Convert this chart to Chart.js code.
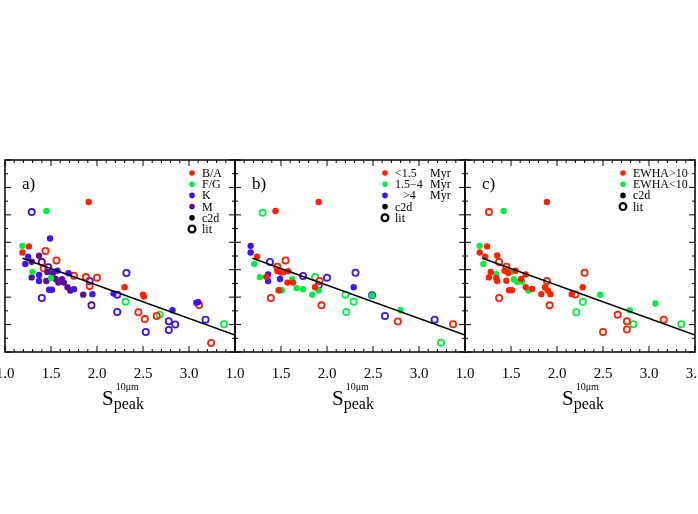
<!DOCTYPE html>
<html>
<head>
<meta charset="utf-8">
<script src="https://cdn.jsdelivr.net/npm/chart.js@4.4.1/dist/chart.umd.min.js"></script>
<style>
  html, body { margin: 0; padding: 0; background: #fff; width: 698px; height: 514px; overflow: hidden; }
  canvas { position: absolute; top: 0; }
</style>
</head>
<body>
<canvas id="panelA" width="300" height="514" style="left:-25px"></canvas>
<canvas id="panelB" width="300" height="514" style="left:205px"></canvas>
<canvas id="panelC" width="300" height="514" style="left:435px"></canvas>
<script>
// fit line
const fitX = [1.19, 3.5];
const fitY = [3.42, 0.62];

// a) spectral type
const aBAc2dX = [1.91, 1.19, 1.26, 2.30, 2.50, 2.51];
const aBAc2dY = [5.47, 3.63, 3.85, 2.36, 2.09, 2.02];
const aBAlitX = [1.44, 1.56, 1.42, 1.75, 1.88, 2.00, 1.92, 2.45, 2.52, 2.65, 3.11, 3.24];
const aBAlitY = [3.68, 3.34, 3.05, 2.78, 2.73, 2.71, 2.41, 1.45, 1.20, 1.31, 1.71, 0.33];
const aFGc2dX = [1.19, 1.45, 1.30, 1.50];
const aFGc2dY = [3.87, 5.14, 2.92, 2.70];
const aFGlitX = [2.31, 2.68, 3.38];
const aFGlitY = [1.83, 1.36, 1.01];
const aKc2dX = [1.49, 1.25, 1.22, 1.37, 1.37, 1.48, 1.51, 1.57, 1.69, 1.75, 1.95, 2.18, 2.82, 3.08];
const aKc2dY = [4.14, 3.47, 3.21, 2.81, 2.59, 2.27, 2.27, 2.96, 2.87, 2.29, 2.11, 2.13, 1.52, 1.80];
const aKlitX = [1.29, 1.40, 1.92, 2.22, 2.32, 2.22, 2.53, 2.78, 2.78, 2.85, 3.18];
const aKlitY = [5.10, 1.97, 2.59, 2.09, 2.88, 1.46, 0.73, 1.12, 0.80, 1.00, 1.18];
const aMc2dX = [1.37, 1.29, 1.29, 1.46, 1.52, 1.55, 1.58, 1.62, 1.64, 1.68, 1.71, 1.85, 1.45, 3.10];
const aMc2dY = [3.51, 3.29, 2.72, 2.92, 2.87, 2.66, 2.53, 2.65, 2.53, 2.36, 2.24, 2.09, 2.59, 1.82];
const aMlitX = [1.40, 1.47, 1.94];
const aMlitY = [3.28, 3.09, 1.70];

// b) age
const bYoungc2dX = [1.91, 1.44, 1.24, 1.34, 1.46, 1.50, 1.53, 1.58, 1.57, 1.63, 1.87, 1.48];
const bYoungc2dY = [5.47, 5.14, 3.47, 2.74, 2.95, 2.90, 2.92, 2.95, 2.53, 2.53, 2.36, 2.25];
const bYounglitX = [1.55, 1.46, 1.39, 1.92, 1.94, 2.77, 3.37];
const bYounglitY = [3.34, 3.11, 1.97, 2.59, 1.70, 1.11, 1.01];
const bMidc2dX = [1.21, 1.27, 1.47, 1.51, 1.62, 1.67, 1.74, 1.84, 1.91, 2.80, 2.49];
const bMidc2dY = [3.21, 2.73, 2.25, 2.25, 2.65, 2.33, 2.29, 2.09, 2.24, 1.52, 2.06];
const bMidlitX = [1.30, 1.87, 2.20, 2.29, 2.21, 3.24];
const bMidlitY = [5.08, 2.73, 2.09, 1.83, 1.46, 0.34];
const bOldc2dX = [1.17, 1.17, 1.36, 1.36, 1.49, 2.29];
const bOldc2dY = [3.87, 3.63, 2.83, 2.59, 2.66, 2.36];
const bOldlitX = [1.38, 1.74, 2.00, 2.31, 1.91, 2.49, 2.63, 3.17];
const bOldlitY = [3.28, 2.77, 2.71, 2.89, 2.43, 2.07, 1.31, 1.18];

// c) H-alpha equivalent width
const cHic2dX = [1.89, 1.24, 1.16, 1.22, 1.35, 1.28, 1.26, 1.34, 1.35, 1.43, 1.45, 1.47, 1.48, 1.51, 1.55, 1.61, 1.66, 1.66, 1.73, 1.83, 1.87, 1.90, 1.93, 2.16, 2.28];
const cHic2dY = [5.47, 3.85, 3.63, 3.47, 3.52, 2.92, 2.72, 2.70, 2.59, 2.96, 2.60, 2.88, 2.25, 2.25, 2.96, 2.66, 2.83, 2.36, 2.30, 2.11, 2.36, 2.24, 2.11, 2.11, 2.36];
const cHilitX = [1.26, 1.37, 1.45, 1.37, 1.89, 1.92, 2.20, 2.30, 2.66, 2.76, 2.76, 2.50, 3.16];
const cHilitY = [5.10, 3.28, 3.11, 1.97, 2.59, 1.70, 2.10, 2.89, 1.36, 1.12, 0.82, 0.73, 1.18];
const cLoc2dX = [1.42, 1.16, 1.20, 1.34, 1.50, 1.53, 1.57, 1.62, 1.69, 2.47, 2.79, 3.07];
const cLoc2dY = [5.14, 3.87, 3.21, 2.84, 2.92, 2.65, 2.55, 2.57, 2.24, 2.09, 1.52, 1.77];
const cLolitX = [2.21, 2.28, 2.83, 3.35];
const cLolitY = [1.45, 1.83, 1.01, 1.01];

const xTicks = [1.0, 1.5, 2.0, 2.5, 3.0, 3.5];

// legend labels
const aLegend = ['B/A', 'F/G', 'K', 'M', 'c2d', 'lit'];
const bLegend = ['<1.5', '1.5\u22124', '>4', 'c2d', 'lit'];
const bUnits = ['Myr', 'Myr', 'Myr', '', ''];
const cLegend = ['EWHA>10', 'EWHA<10', 'c2d', 'lit'];

const RED = '#ff2000', GREEN = '#00f040', BLUE = '#3a12ff', PURPLE = '#5c0a9e';
const SERIF = '"Liberation Serif", "DejaVu Serif", serif';

function pts(xs, ys) { return xs.map((x, i) => ({ x: x, y: ys[i] })); }

function filled(xs, ys, color) {
  return { data: pts(xs, ys), backgroundColor: color, borderWidth: 0, pointRadius: 3.2, showLine: false };
}
function open(xs, ys, color) {
  return { data: pts(xs, ys), backgroundColor: 'rgba(0,0,0,0)', borderColor: color, borderWidth: 1.8, pointRadius: 3.1, showLine: false };
}

// frame with inward ticks on all sides
const frame = {
  id: 'frame',
  afterDatasetsDraw(chart) {
    const { ctx, chartArea: a, scales } = chart;
    const x = scales.x, y = scales.y;
    ctx.save();
    ctx.strokeStyle = '#000';
    ctx.lineWidth = 1;
    ctx.beginPath();
    for (let i = 0; i <= 25; i++) {
      const px = x.getPixelForValue(1 + i * 0.1);
      const len = i % 5 === 0 ? 6 : 3;
      ctx.moveTo(px, a.bottom); ctx.lineTo(px, a.bottom - len);
      ctx.moveTo(px, a.top); ctx.lineTo(px, a.top + len);
    }
    for (let i = 0; i <= 14; i++) {
      const py = y.getPixelForValue(i * 0.5);
      const len = i % 2 === 0 ? 6 : 3;
      ctx.moveTo(a.left, py); ctx.lineTo(a.left + len, py);
      ctx.moveTo(a.right, py); ctx.lineTo(a.right - len, py);
    }
    ctx.stroke();
    ctx.lineWidth = 1.5;
    ctx.strokeRect(a.left, a.top, a.right - a.left, a.bottom - a.top);
    ctx.restore();
  }
};

// panel tag, legend and axis title (data captured directly, not via options)
function deco(tag, labels, colors, units, shifts, mxOff) {
  return {
    id: 'deco',
    afterDraw(chart) {
      const { ctx, chartArea: a } = chart;
      ctx.save();
      ctx.textAlign = 'left';
      ctx.fillStyle = '#000';
      ctx.textBaseline = 'alphabetic';
      ctx.font = '17px ' + SERIF;
      ctx.fillText(tag, a.left + 17, a.top + 29);

      const mx = a.left + mxOff;
      labels.forEach((lab, i) => {
        const cy = a.top + 13 + i * 11.2;
        ctx.beginPath();
        if (lab === 'lit') {
          ctx.arc(mx, cy, 3.4, 0, Math.PI * 2);
          ctx.lineWidth = 2.2;
          ctx.strokeStyle = colors[i];
          ctx.stroke();
        } else {
          ctx.arc(mx, cy, 2.8, 0, Math.PI * 2);
          ctx.fillStyle = colors[i];
          ctx.fill();
        }
        ctx.fillStyle = '#000';
        ctx.font = '12px ' + SERIF;
        ctx.fillText(lab, mx + 10 + (shifts ? shifts[i] : 0), cy + 4);
        if (units && units[i]) ctx.fillText(units[i], mx + 45, cy + 4);
      });

      // S_peak^10um
      const cx = (a.left + a.right) / 2;
      ctx.font = '21px ' + SERIF;
      const sx = cx - 18;
      ctx.fillText('S', sx, 405);
      const sw = ctx.measureText('S').width;
      ctx.font = '10px ' + SERIF;
      ctx.fillText('10\u03bcm', sx + sw + 2, 390);
      ctx.font = '16px ' + SERIF;
      ctx.fillText('peak', sx + sw, 409);
      ctx.restore();
    }
  };
}

function makePanel(id, datasets, decoPlugin, hideLast) {
  const all = [{
    type: 'line', data: pts(fitX, fitY), borderColor: '#000', borderWidth: 1.5,
    pointRadius: 0, fill: false
  }].concat(datasets);
  new Chart(document.getElementById(id), {
    type: 'scatter',
    data: { datasets: all },
    options: {
      responsive: false,
      animation: false,
      devicePixelRatio: 1,
      layout: { autoPadding: false, padding: { left: 30, right: 40, top: 160, bottom: 0 } },
      plugins: {
        legend: { display: false },
        tooltip: { enabled: false }
      },
      scales: {
        x: {
          type: 'linear', min: 1, max: 3.5,
          afterBuildTicks: s => { s.ticks = xTicks.map(v => ({ value: v })); },
          afterFit: s => { s.height = 162; },
          grid: { display: false, drawTicks: false },
          border: { display: false },
          ticks: {
            color: '#000', padding: 13, maxRotation: 0, autoSkip: false,
            font: { family: SERIF, size: 15 },
            callback: v => (hideLast && v === 3.5) ? '' : v.toFixed(1)
          }
        },
        y: { display: false, min: 0, max: 7 }
      }
    },
    plugins: [frame, decoPlugin]
  });
}

makePanel('panelA', [
  filled(aBAc2dX, aBAc2dY, RED), filled(aFGc2dX, aFGc2dY, GREEN),
  filled(aKc2dX, aKc2dY, BLUE), filled(aMc2dX, aMc2dY, PURPLE),
  open(aBAlitX, aBAlitY, RED), open(aFGlitX, aFGlitY, GREEN),
  open(aKlitX, aKlitY, BLUE), open(aMlitX, aMlitY, PURPLE)
], deco('a)', aLegend, [RED, GREEN, BLUE, PURPLE, '#000', '#000'], null, null, 187), true);

makePanel('panelB', [
  filled(bYoungc2dX, bYoungc2dY, RED), filled(bMidc2dX, bMidc2dY, GREEN),
  filled(bOldc2dX, bOldc2dY, BLUE),
  open(bYounglitX, bYounglitY, RED), open(bMidlitX, bMidlitY, GREEN),
  open(bOldlitX, bOldlitY, BLUE)
], deco('b)', bLegend, [RED, GREEN, BLUE, '#000', '#000'], bUnits, [0, 0, 8, 0, 0], 150), true);

makePanel('panelC', [
  filled(cHic2dX, cHic2dY, RED), filled(cLoc2dX, cLoc2dY, GREEN),
  open(cHilitX, cHilitY, RED), open(cLolitX, cLolitY, GREEN)
], deco('c)', cLegend, [RED, GREEN, '#000', '#000'], null, null, 158), false);
</script>
</body>
</html>
